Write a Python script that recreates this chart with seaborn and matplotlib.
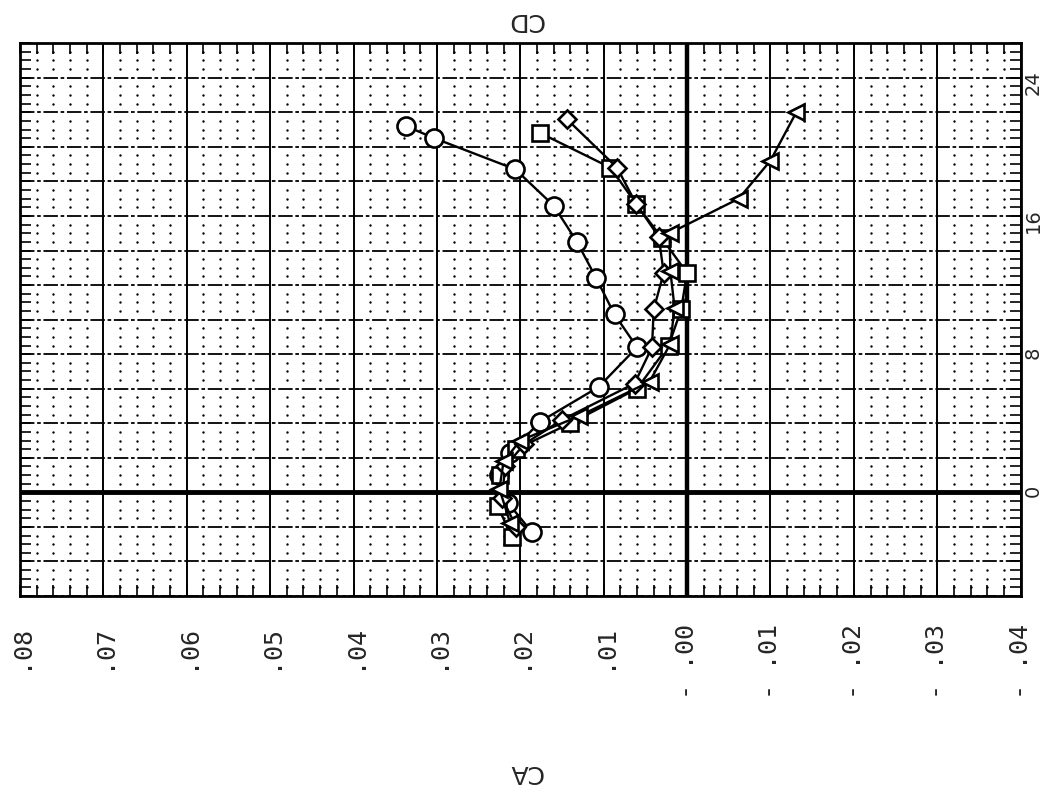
import matplotlib
matplotlib.use('Agg')
import matplotlib.pyplot as plt
import numpy as np
import pandas as pd
import seaborn as sns
from matplotlib.ticker import FixedLocator, MultipleLocator

circle_ca = [0.0186, 0.0215, 0.0225, 0.0212, 0.0176, 0.0106, 0.0060, 0.0087, 0.0109, 0.0132, 0.0160, 0.0206, 0.0303, 0.0337]
circle_al = [-2.3, -0.6, 1.0, 2.3, 4.1, 6.1, 8.4, 10.3, 12.4, 14.5, 16.6, 18.7, 20.5, 21.2]

square_ca = [0.0210, 0.0227, 0.0224, 0.0205, 0.0140, 0.0060, 0.0022, 0.0007, 0.0000, 0.0030, 0.0061, 0.0092, 0.0176]
square_al = [-2.6, -0.8, 1.0, 2.5, 4.0, 6.0, 8.5, 10.6, 12.7, 14.7, 16.7, 18.8, 20.8]

diamond_ca = [0.0205, 0.0222, 0.0218, 0.0195, 0.0150, 0.0063, 0.0042, 0.0040, 0.0028, 0.0034, 0.0061, 0.0084, 0.0144]
diamond_al = [-2.0, -0.3, 1.5, 2.8, 4.2, 6.3, 8.4, 10.6, 12.7, 14.8, 16.7, 18.8, 21.6]

triangle_ca = [0.0212, 0.0225, 0.0220, 0.0200, 0.0130, 0.0045, 0.0020, 0.0015, 0.0020, 0.0021, -0.0062, -0.0100, -0.0131]
triangle_al = [-1.8, 0.2, 1.8, 3.0, 4.4, 6.4, 8.6, 10.7, 12.8, 15.0, 17.0, 19.2, 22.0]

ca_ticks = [0.08, 0.07, 0.06, 0.05, 0.04, 0.03, 0.02, 0.01, 0.00, -0.01, -0.02, -0.03, -0.04]
ca_labels = ['.08', '.07', '.06', '.05', '.04', '.03', '.02', '.01', '- .00', '- .01', '- .02', '- .03', '- .04']
al_ticks = [0, 8, 16, 24]
al_labels = ['0', '8', '16', '24']

sns.set_style('white')
plt.rcParams['font.family'] = ['DejaVu Sans']

fig = plt.figure(figsize=(10.5, 8), dpi=100)
ax = fig.add_axes([0.019, 0.255, 0.953, 0.691])

# dotted background grid
gx = [v for v in np.arange(-0.04, 0.0801, 0.002) if abs(v * 100 - round(v * 100)) > 1e-6]
gy = [a for a in np.arange(-6, 26.01, 0.5) if a % 2 != 0]
GX, GY = np.meshgrid(gx, gy)
ax.scatter(GX.ravel(), GY.ravel(), s=3, color='black', linewidths=0, zorder=1)

for v in ca_ticks:
    ax.axvline(v, color='black', lw=3.2 if v == 0 else 1.4, zorder=1)
for a in np.arange(-6, 26.01, 2):
    if a == 0:
        ax.axhline(0, color='black', lw=3.5, zorder=1)
    else:
        ax.axhline(a, color='black', lw=1.3, ls=(0, (8, 1.5, 2, 1.5)), zorder=1)

series = [
    (circle_ca, circle_al, 'o', 13),
    (square_ca, square_al, 's', 12),
    (diamond_ca, diamond_al, 'D', 9),
    (triangle_ca, triangle_al, '<', 12),
]
for ca, al, mk, ms in series:
    df = pd.DataFrame({'CA': ca, 'alpha': al})
    sns.lineplot(data=df, x='CA', y='alpha', sort=False, estimator=None, ax=ax,
                 color='black', lw=1.7, marker=mk, markersize=ms,
                 markerfacecolor='white', markeredgecolor='black', markeredgewidth=1.9,
                 zorder=3)

ax.set_xlim(0.08, -0.04)
ax.set_ylim(-6, 26)
ax.xaxis.set_major_locator(FixedLocator(ca_ticks))
ax.set_xticklabels(ca_labels, rotation=90, fontsize=18, family='DejaVu Sans Mono')
ax.xaxis.set_minor_locator(MultipleLocator(0.002))
ax.tick_params(axis='x', which='both', direction='in', top=True, bottom=True,
               length=8, width=1.4, pad=20)

ax.yaxis.set_major_locator(FixedLocator(al_ticks))
ax.set_yticklabels(al_labels, rotation=90, fontsize=14)
ax.yaxis.set_minor_locator(MultipleLocator(0.5))
ax.tick_params(axis='y', which='both', direction='in', left=True, right=True,
               labelleft=False, labelright=True, length=8, width=1.4, pad=2)

for s in ax.spines.values():
    s.set_linewidth(2)
    s.set_color('black')

ax.set_xlabel('')
ax.set_ylabel('')
fig.text(0.5, 1 - 20 / 800, 'CD', rotation=180, ha='center', va='center', fontsize=18)
fig.text(0.5, 1 - 772 / 800, 'CA', rotation=180, ha='center', va='center', fontsize=18)

fig.savefig('out.png', dpi=100)
